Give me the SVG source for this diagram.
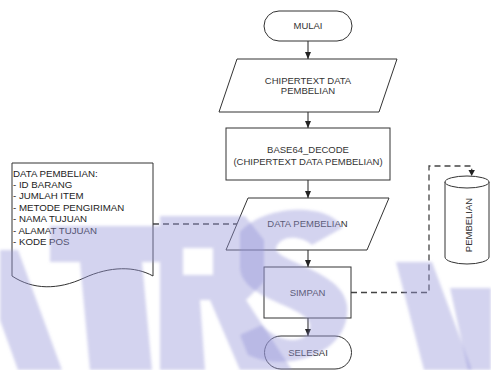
<svg xmlns="http://www.w3.org/2000/svg" width="491" height="370" viewBox="0 0 491 370">
<style>
.s{fill:#fff;stroke:#333;stroke-width:1}
.t{font-family:"Liberation Sans",Arial,sans-serif;font-size:9.5px;fill:#333;text-anchor:middle}
.l{font-family:"Liberation Sans",Arial,sans-serif;font-size:9.7px;fill:#222}
.c{fill:none;stroke:#333;stroke-width:1.1}
.d{fill:none;stroke:#444;stroke-width:1.3;stroke-dasharray:6,4}
.wm{fill:#9797d8;opacity:0.42}
</style>
<defs>
<marker id="ah" markerWidth="8" markerHeight="8" refX="7" refY="4" orient="auto" markerUnits="userSpaceOnUse">
<path d="M0,1 L7,4 L0,7 Z" fill="#222"/>
</marker>
<filter id="bl"><feGaussianBlur stdDeviation="1.5"/></filter>
</defs>
<rect width="491" height="370" fill="#fff"/>
<g id="connectors">
<line class="c" x1="308" y1="41" x2="308" y2="59" marker-end="url(#ah)"/>
<line class="c" x1="308" y1="112" x2="308" y2="128" marker-end="url(#ah)"/>
<line class="c" x1="308" y1="180" x2="308" y2="198" marker-end="url(#ah)"/>
<line class="c" x1="308" y1="250" x2="308" y2="267" marker-end="url(#ah)"/>
<line class="c" x1="308" y1="318" x2="308" y2="336" marker-end="url(#ah)"/>
<path class="d" d="M153,224 H237"/>
<path class="d" d="M351,292.5 H429 V166 H471.7 V170"/>
<path d="M468.5,170 L474.9,170 L471.7,176 Z" fill="#222"/>
</g>
<g id="mulai">
<rect class="s" x="264" y="11" width="88" height="30" rx="15" ry="15"/>
<text class="t" x="308" y="28.5">MULAI</text>
</g>
<g id="chipertext">
<polygon class="s" points="237,59 397,59 379,112 219,112"/>
<text class="t" x="308" y="84">CHIPERTEXT DATA</text>
<text class="t" x="308" y="94">PEMBELIAN</text>
</g>
<g id="decode">
<rect class="s" x="226" y="128" width="164" height="52"/>
<text class="t" x="308" y="152.7">BASE64_DECODE</text>
<text class="t" x="308" y="165">(CHIPERTEXT DATA PEMBELIAN)</text>
</g>
<g id="data">
<polygon class="s" points="248,198 389,198 367,250 226,250"/>
<text class="t" x="307.5" y="226.7">DATA PEMBELIAN</text>
</g>
<g id="simpan">
<rect class="s" x="264" y="267" width="87" height="51"/>
<text class="t" x="307.5" y="296">SIMPAN</text>
</g>
<g id="selesai">
<rect class="s" x="264.5" y="336" width="87" height="33" rx="16.5" ry="16.5"/>
<text class="t" x="308" y="356">SELESAI</text>
</g>
<g id="document">
<path class="s" d="M12,163 H153 V276 C135,266 110,266 84,278 C58,290 33,290 12,276 Z"/>
<text class="l" x="13" y="176.7">DATA PEMBELIAN:</text>
<text class="l" x="13" y="188">- ID BARANG</text>
<text class="l" x="13" y="199.3">- JUMLAH ITEM</text>
<text class="l" x="13" y="210.6">- METODE PENGIRIMAN</text>
<text class="l" x="13" y="222.3">- NAMA TUJUAN</text>
<text class="l" x="13" y="233.5">- ALAMAT TUJUAN</text>
<text class="l" x="13" y="245">- KODE POS</text>
</g>
<g id="pembelian">
<path class="s" d="M445,182 V257 A22,7 0 0 0 489,257 V182"/>
<ellipse class="s" cx="467" cy="182" rx="22" ry="6"/>
<text class="t" transform="translate(472,225) rotate(-90)">PEMBELIAN</text>
</g>
<g id="watermark" filter="url(#bl)">
<polygon class="wm" points="0,250 18,250 62,370 18,370 0,320"/>
<path class="wm" d="M50,226 H160 V262 H142 L152,370 H90 L80,262 H50 Z"/>
<path class="wm" d="M160,216 H245 L264,240 L264,282 L246,300 L292,370 H240 L210,300 H200 L205,370 H160 Z M183,248 V275 H213 V248 Z" fill-rule="evenodd"/>
<path class="wm" d="M240,232 C265,203 332,203 342,228 L312,245 C300,235 280,235 276,248 C275,262 342,270 347,305 C352,352 290,374 248,355 L240,335 L262,325 C280,345 310,345 310,325 C308,305 238,300 240,265 Z"/>
<polygon class="wm" points="396,262 432,262 472,370 424,370"/>
<polygon class="wm" points="450,288 491,288 491,370 468,370"/>
</g>
</svg>
